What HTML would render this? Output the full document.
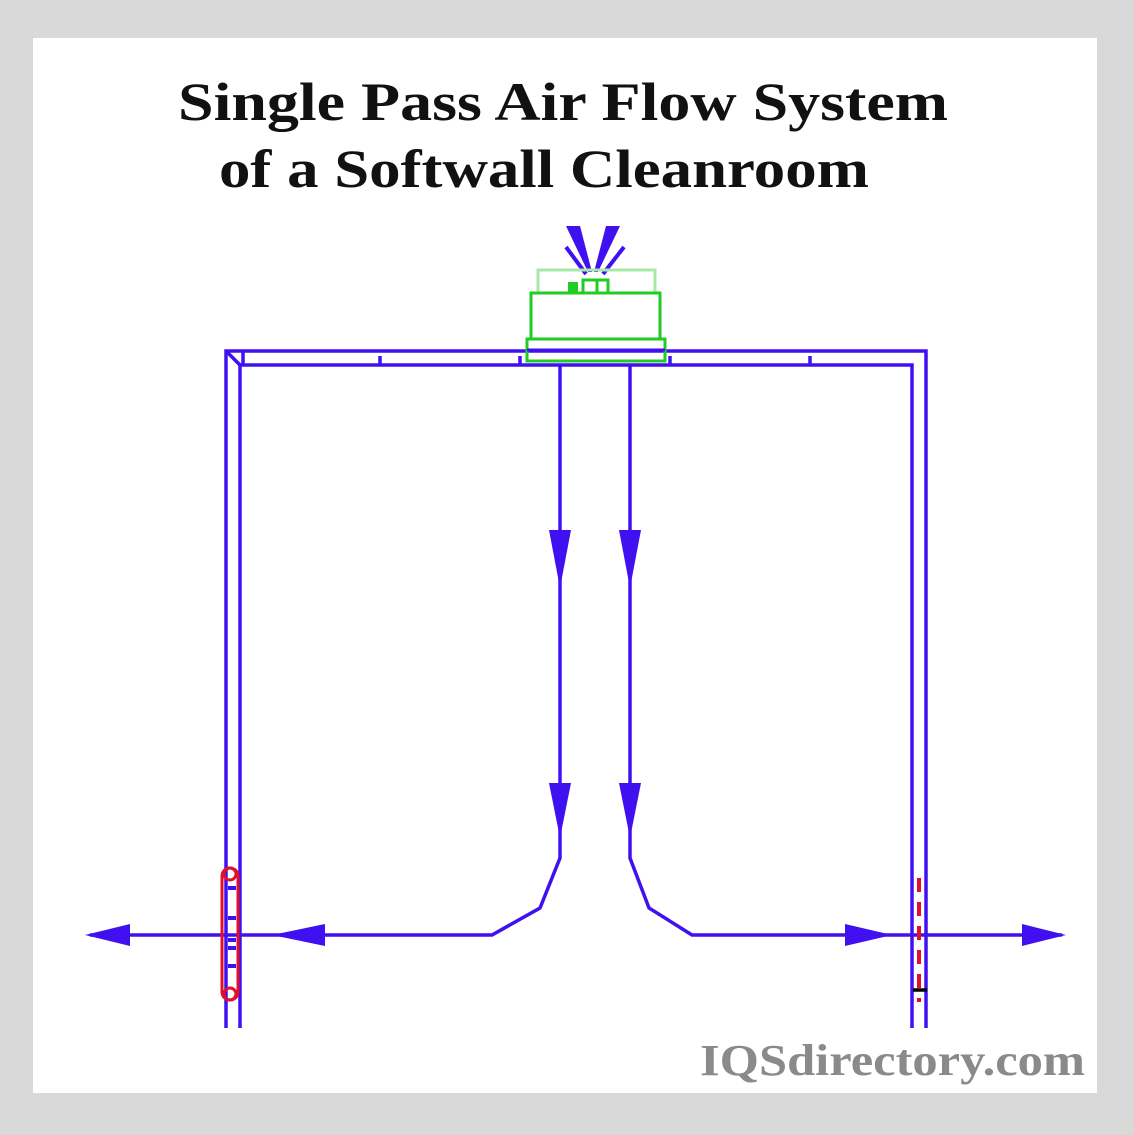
<!DOCTYPE html>
<html><head><style>html,body{margin:0;padding:0;background:#d9d9d9}</style></head>
<body>
<svg width="1134" height="1130" viewBox="0 0 1134 1130" xmlns="http://www.w3.org/2000/svg">
<rect x="0" y="0" width="1134" height="1130" fill="#d9d9d9"/>
<rect x="33" y="38" width="1064" height="1055" fill="#fff"/>
<g font-family="Liberation Serif, serif" font-weight="bold" font-size="54" fill="#111">
<text x="178" y="120" textLength="770" lengthAdjust="spacingAndGlyphs">Single Pass Air Flow System</text>
<text x="219" y="187" textLength="650" lengthAdjust="spacingAndGlyphs">of a Softwall Cleanroom</text>
</g>
<text x="700" y="1075" font-family="Liberation Serif, serif" font-weight="bold" font-size="44" fill="#8a8a8a" textLength="385" lengthAdjust="spacingAndGlyphs">IQSdirectory.com</text>
<g stroke="#4010f0" stroke-width="3.5" fill="none">
<polyline points="226,1028 226,351 926,351 926,1028"/>
<polyline points="240,1028 240,365 912,365 912,1028"/>
<line x1="226" y1="351" x2="240" y2="365"/>
<line x1="243" y1="351" x2="243" y2="365"/><line x1="380" y1="356" x2="380" y2="365"/><line x1="520" y1="356" x2="520" y2="365"/><line x1="670" y1="356" x2="670" y2="365"/><line x1="810" y1="356" x2="810" y2="365"/>
<polyline points="560,365 560,858 540,908 492,935 90,935"/>
<polyline points="630,365 630,858 649,908 692,935 1062,935"/>
</g>
<g fill="#4010f0">
<polygon points="549,530 571,530 560,588"/><polygon points="549,783 571,783 560,838"/>
<polygon points="619,530 641,530 630,588"/><polygon points="619,783 641,783 630,838"/>
<polygon points="325,924 325,946 272,935"/><polygon points="130,924 130,946 85,935"/>
<polygon points="845,924 845,946 892,935"/><polygon points="1022,924 1022,946 1066,935"/>
<polygon points="566,226 580,226 592,272 588,272"/><polygon points="606,226 620,226 598,272 594,272"/>
</g>
<g stroke="#4010f0" stroke-width="4"><line x1="566" y1="247" x2="586" y2="274"/><line x1="624" y1="247" x2="603" y2="274"/>
<line x1="228" y1="888" x2="236" y2="888"/><line x1="228" y1="918" x2="236" y2="918"/><line x1="228" y1="940" x2="236" y2="940"/><line x1="228" y1="948" x2="236" y2="948"/><line x1="228" y1="966" x2="236" y2="966"/></g>
<rect x="222" y="868" width="16" height="132" rx="8" fill="none" stroke="#e0102a" stroke-width="3"/>
<circle cx="230" cy="874" r="6" fill="none" stroke="#e0102a" stroke-width="3"/>
<circle cx="230" cy="994" r="6" fill="none" stroke="#e0102a" stroke-width="3"/>
<line x1="919" y1="878" x2="919" y2="1002" stroke="#e0102a" stroke-width="4" stroke-dasharray="14,10"/>
<line x1="913" y1="990" x2="927" y2="990" stroke="#000" stroke-width="3.5"/>
<g fill="none" stroke="#22cc22" stroke-width="3">
<rect x="538" y="270" width="117" height="23" stroke="#a8e8a8"/>
<rect x="531" y="293" width="129" height="46"/>
<rect x="527" y="339" width="138" height="22"/>
<rect x="583" y="280" width="14" height="13"/><rect x="597" y="280" width="11" height="13"/>
</g>
<rect x="568" y="282" width="10" height="11" fill="#22cc22"/>
<line x1="527" y1="350" x2="665" y2="350" stroke="#4010f0" stroke-width="3"/>
</svg>
</body></html>
